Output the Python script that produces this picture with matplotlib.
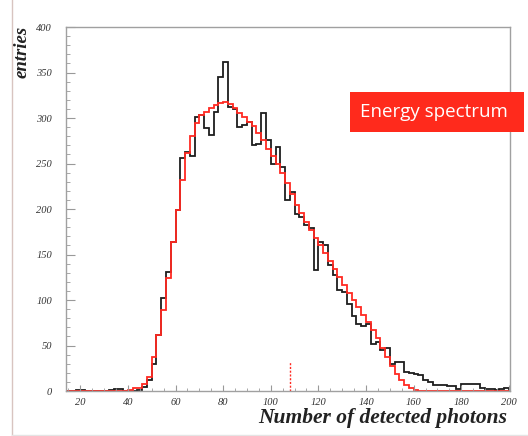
import numpy as np
import matplotlib
matplotlib.use("Agg")
import matplotlib.pyplot as plt
from matplotlib.ticker import MultipleLocator
from matplotlib.lines import Line2D
from matplotlib.patches import Rectangle

# bin edges (number of detected photons), 2 photons per bin
bin_edges = np.arange(14, 202, 2)

# measured spectrum (black)
data_counts = [0, 0, 1, 1, 0, 0, 0, 0, 0, 1, 2, 2, 0, 0, 0,
               1, 4, 12, 30, 62, 102, 131, 164, 199, 256, 263, 258, 301, 303, 289,
               281, 307, 345, 362, 312, 310, 290, 292, 296, 270, 272, 305, 276, 250, 268,
               246, 210, 219, 195, 191, 182, 179, 133, 164, 160, 138, 128, 111, 109, 96,
               82, 74, 71, 74, 52, 54, 45, 47, 30, 32, 32, 21, 20, 19, 18,
               12, 10, 7, 7, 7, 6, 6, 2, 8, 8, 8, 8, 3, 2, 2,
               1, 2, 3]

# simulation (red)
sim_counts = [0, 0, 0, 0, 0, 0, 0, 0, 0, 0, 0, 0, 0, 1, 3,
              3, 8, 15, 38, 62, 89, 124, 164, 199, 232, 262, 280, 295, 303, 307,
              311, 314, 317, 318, 315, 311, 306, 301, 296, 291, 284, 276, 266, 258, 250,
              240, 229, 216, 205, 196, 186, 177, 168, 160, 152, 143, 134, 125, 117, 108,
              100, 92, 84, 76, 67, 58, 47, 37, 28, 19, 12, 7, 3, 1, 0,
              0, 0, 0, 0, 0, 0, 0, 0, 0, 0, 0, 0, 0, 0, 0,
              0, 0, 0]

threshold_x = 108
threshold_h = 33

fig = plt.figure(figsize=(5.28, 4.36), dpi=100, facecolor="white")
ax = fig.add_axes([0.125, 0.103, 0.841, 0.835])

ax.stairs(data_counts, bin_edges, color="#1e1e1e", linewidth=1.3)
ax.stairs(sim_counts, bin_edges, color="#ff2a22", linewidth=1.3)
ax.plot([threshold_x, threshold_x], [0, threshold_h], color="#ff2a22",
        linestyle=(0, (1.5, 1.2)), linewidth=1.0)

ax.set_xlim(14, 200.5)
ax.set_ylim(0, 400)

ax.xaxis.set_major_locator(MultipleLocator(20))
ax.xaxis.set_minor_locator(MultipleLocator(5))
ax.yaxis.set_major_locator(MultipleLocator(50))
ax.yaxis.set_minor_locator(MultipleLocator(10))

ax.tick_params(axis="both", which="both", direction="in", colors="#999999",
               labelcolor="#333333", top=False, right=False)
ax.tick_params(axis="y", which="major", length=6.5, pad=10)
ax.tick_params(axis="y", which="minor", length=3)
ax.tick_params(axis="x", which="major", length=4, pad=5)
ax.tick_params(axis="x", which="minor", length=2.5)
for lab in ax.get_xticklabels() + ax.get_yticklabels():
    lab.set_fontfamily("Liberation Serif")
    lab.set_fontstyle("italic")
    lab.set_fontsize(7.5)

for s in ax.spines.values():
    s.set_color("#a0a0a0")
    s.set_linewidth(1.0)

# axis titles, ROOT style
fig.text(0.042, 0.94, "entries", rotation=90, ha="center", va="top",
         fontfamily="Liberation Serif", fontstyle="italic", fontweight="bold",
         fontsize=13.5, color="#222222")
fig.text(0.961, 0.041, "Number of detected photons", ha="right", va="center",
         fontfamily="Liberation Serif", fontstyle="italic", fontweight="bold",
         fontsize=15.5, color="#222222")

# red label box (sticks out past the frame on the right)
fig.add_artist(Rectangle((0.663, 0.697), 0.33, 0.092, transform=fig.transFigure,
                         facecolor="#ff2a1c", edgecolor="none"))
fig.text(0.681, 0.744, "Energy spectrum", ha="left", va="center",
         fontfamily="Open Sans", fontsize=13.5, color="white")

# thin frame lines of the slide
fig.add_artist(Line2D([0.023, 0.023], [0.0, 1.0], transform=fig.transFigure,
                      color="#d8c4c0", linewidth=1.0))
fig.add_artist(Line2D([0.023, 1.0], [0.003, 0.003], transform=fig.transFigure,
                      color="#e4e4e4", linewidth=1.0))

fig.savefig("out.png", dpi=100, facecolor="white")
